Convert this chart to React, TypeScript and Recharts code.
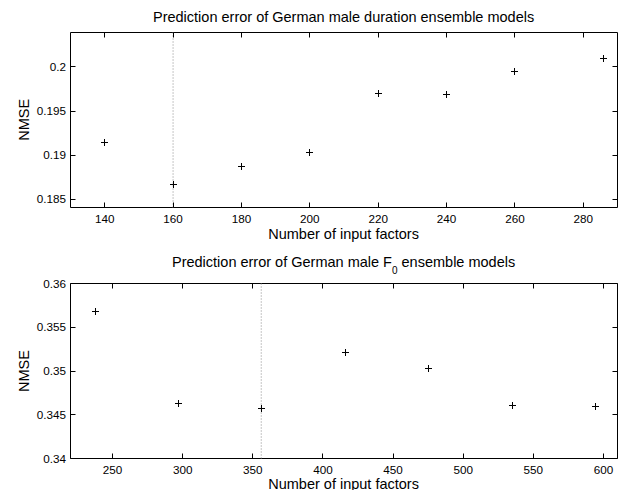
import React from 'react';
import { ScatterChart, Scatter, XAxis, YAxis, ReferenceLine, ReferenceArea } from 'recharts';

const durFactors = [140, 160, 180, 200, 220, 240, 260, 286];
const durNMSE = [0.1914, 0.1867, 0.1887, 0.1903, 0.197, 0.1969, 0.1995, 0.201];
const durXTicks = [140, 160, 180, 200, 220, 240, 260, 280];
const durYTicks = [0.185, 0.19, 0.195, 0.2];
const durBest = 160;

const f0Factors = [238, 297, 356, 416, 475, 535, 594];
const f0NMSE = [0.3568, 0.3463, 0.3457, 0.3521, 0.3503, 0.3461, 0.3459];
const f0XTicks = [250, 300, 350, 400, 450, 500, 550, 600];
const f0YTicks = [0.34, 0.345, 0.35, 0.355, 0.36];
const f0Best = 356;

const FONT = 'Liberation Sans, Arial, Helvetica, sans-serif';
const TICK_FS = 11.7;
const LABEL_FS = 14.5;
const TL = 5;

const snap = (v: number) => Math.round(v - 0.5) + 0.5;

const Plus = (props: any) => {
  const { cx, cy } = props;
  if (cx == null || cy == null) return null;
  const x = snap(cx);
  const y = snap(cy);
  const a = 3.5;
  return (
    <g>
      <line x1={x - a} y1={y} x2={x + a} y2={y} stroke="#000" strokeWidth={1} />
      <line x1={x} y1={y - a} x2={x} y2={y + a} stroke="#000" strokeWidth={1} />
    </g>
  );
};

const NoShape = () => null;

const BottomTick = (props: any) => {
  const { x, y, payload } = props;
  const sx = snap(x);
  return (
    <g>
      <line x1={sx} y1={y} x2={sx} y2={y - TL} stroke="#000" strokeWidth={1} />
      <text x={x} y={y + 15} textAnchor="middle" fontSize={TICK_FS} fontFamily={FONT} fill="#000">
        {String(payload.value)}
      </text>
    </g>
  );
};

const TopTick = (props: any) => {
  const { x, y } = props;
  const sx = snap(x);
  return <line x1={sx} y1={y} x2={sx} y2={y + TL} stroke="#000" strokeWidth={1} />;
};

const LeftTick = (props: any) => {
  const { x, y, payload } = props;
  const sy = snap(y);
  return (
    <g>
      <line x1={x} y1={sy} x2={x + TL} y2={sy} stroke="#000" strokeWidth={1} />
      <text x={x - 4.5} y={y + 4.1} textAnchor="end" fontSize={TICK_FS} fontFamily={FONT} fill="#000">
        {String(payload.value)}
      </text>
    </g>
  );
};

const RightTick = (props: any) => {
  const { x, y } = props;
  const sy = snap(y);
  return <line x1={x} y1={sy} x2={x - TL} y2={sy} stroke="#000" strokeWidth={1} />;
};

type PanelProps = {
  data: { x: number; y: number }[];
  xDomain: [number, number];
  yDomain: [number, number];
  xTicks: number[];
  yTicks: number[];
  best: number;
  top: number;
  height: number;
  margin: { top: number; right: number; bottom: number; left: number };
};

function Panel({ data, xDomain, yDomain, xTicks, yTicks, best, top, height, margin }: PanelProps) {
  return (
    <div style={{ position: 'absolute', left: 0, top, width: 618, height }}>
      <ScatterChart width={618} height={height} margin={margin}>
        <XAxis
          xAxisId="b"
          type="number"
          dataKey="x"
          orientation="bottom"
          domain={xDomain}
          ticks={xTicks}
          interval={0}
          allowDataOverflow
          height={30}
          tickSize={0}
          tickMargin={0}
          tick={BottomTick}
          axisLine={false}
          tickLine={false}
        />
        <XAxis
          xAxisId="t"
          type="number"
          dataKey="x"
          orientation="top"
          domain={xDomain}
          ticks={xTicks}
          interval={0}
          allowDataOverflow
          height={1}
          tickSize={0}
          tickMargin={0}
          tick={TopTick}
          axisLine={false}
          tickLine={false}
        />
        <YAxis
          yAxisId="l"
          type="number"
          dataKey="y"
          orientation="left"
          domain={yDomain}
          ticks={yTicks}
          interval={0}
          allowDataOverflow
          width={50}
          tickSize={0}
          tickMargin={0}
          tick={LeftTick}
          axisLine={false}
          tickLine={false}
        />
        <YAxis
          yAxisId="r"
          type="number"
          dataKey="y"
          orientation="right"
          domain={yDomain}
          ticks={yTicks}
          interval={0}
          allowDataOverflow
          width={0.5}
          tickSize={0}
          tickMargin={0}
          tick={RightTick}
          axisLine={false}
          tickLine={false}
        />
        <ReferenceArea
          xAxisId="b"
          yAxisId="l"
          x1={xDomain[0]}
          x2={xDomain[1]}
          y1={yDomain[0]}
          y2={yDomain[1]}
          fill="none"
          fillOpacity={0}
          stroke="#000"
          strokeWidth={1}
          strokeOpacity={1}
          ifOverflow="visible"
        />
        <ReferenceLine
          xAxisId="b"
          yAxisId="l"
          x={best}
          stroke="#8a8a8a"
          strokeWidth={1}
          strokeDasharray="1 2"
        />
        <Scatter
          xAxisId="b"
          yAxisId="l"
          data={data}
          shape={Plus}
          isAnimationActive={false}
        />
        <Scatter
          xAxisId="t"
          yAxisId="r"
          data={data}
          shape={NoShape}
          isAnimationActive={false}
        />
      </ScatterChart>
    </div>
  );
}

export default function App() {
  const durData = durFactors.map((x, i) => ({ x, y: durNMSE[i] }));
  const f0Data = f0Factors.map((x, i) => ({ x, y: f0NMSE[i] }));
  const cx = 343.6;
  return (
    <div style={{ position: 'absolute', left: 0, top: 0, width: 618, height: 490, background: '#fff' }}>
      <Panel
        data={durData}
        xDomain={[130, 290]}
        yDomain={[0.18406, 0.20391]}
        xTicks={durXTicks}
        yTicks={durYTicks}
        best={durBest}
        top={0}
        height={245}
        margin={{ top: 31.5, right: 0, bottom: 7.5, left: 20.5 }}
      />
      <Panel
        data={f0Data}
        xDomain={[220, 610]}
        yDomain={[0.34, 0.36]}
        xTicks={f0XTicks}
        yTicks={f0YTicks}
        best={f0Best}
        top={245}
        height={245}
        margin={{ top: 37.5, right: 0, bottom: 1.5, left: 20.5 }}
      />
      <svg
        width={618}
        height={490}
        style={{ position: 'absolute', left: 0, top: 0, pointerEvents: 'none' }}
        fontFamily={FONT}
      >
        <text x={cx} y={22} textAnchor="middle" fontSize={LABEL_FS} fill="#000">
          Prediction error of German male duration ensemble models
        </text>
        <text x={cx} y={238.7} textAnchor="middle" fontSize={LABEL_FS} fill="#000">
          Number of input factors
        </text>
        <text
          x={29}
          y={119.8}
          textAnchor="middle"
          fontSize={LABEL_FS}
          fill="#000"
          transform="rotate(-90 29 119.8)"
        >
          NMSE
        </text>
        <text x={cx} y={266.7} textAnchor="middle" fontSize={LABEL_FS} fill="#000">
          <tspan>Prediction error of German male F</tspan>
          <tspan fontSize={10} dy={7}>0</tspan>
          <tspan dy={-7}> ensemble models</tspan>
        </text>
        <text x={cx} y={488.5} textAnchor="middle" fontSize={LABEL_FS} fill="#000">
          Number of input factors
        </text>
        <text
          x={29}
          y={371}
          textAnchor="middle"
          fontSize={LABEL_FS}
          fill="#000"
          transform="rotate(-90 29 371)"
        >
          NMSE
        </text>
      </svg>
    </div>
  );
}
